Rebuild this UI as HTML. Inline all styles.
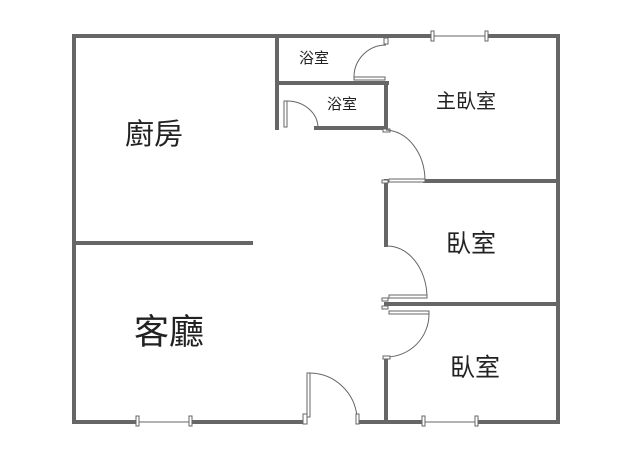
<!DOCTYPE html>
<html><head><style>body{margin:0;background:#fff}svg{display:block}text{font-family:"Liberation Sans","Noto Sans CJK TC",sans-serif;fill:#222}</style></head><body>
<svg width="640" height="461" viewBox="0 0 640 461">
<g stroke="#666" stroke-width="4" fill="none" stroke-linecap="square">
<path d="M74 36V422M74 36H432M488 36H558V422M558 422H478M421 422H360M304 422H192M137 422H74"/>
<path d="M277 36V128M277 83H387M386 83V128H316"/>
<path d="M425 181H558M386 181V245M386 304H558M386 358V422M74 243H251"/>
</g>
<g stroke="#666" stroke-width="1" fill="#fff">
<line x1="137" y1="422" x2="192" y2="422"/><rect x="136" y="416" width="3" height="10"/><rect x="189" y="416" width="3" height="10"/>
<line x1="423" y1="422" x2="476" y2="422"/><rect x="422" y="416" width="3" height="10"/><rect x="475" y="416" width="3" height="10"/>
<line x1="432" y1="36" x2="486" y2="36"/><rect x="431" y="31" width="3" height="10"/><rect x="485" y="31" width="3" height="10"/>
<rect x="384" y="38" width="4" height="6"/>
<rect x="354" y="77" width="31" height="3"/><path d="M354 77A32 32 0 0 1 386 45" fill="none"/>
<rect x="284" y="101" width="3" height="26"/><path d="M287 101A31 27 0 0 1 318 128" fill="none"/>
<rect x="383" y="129" width="7" height="3"/>
<path d="M386 130A40 51 0 0 1 425 180" fill="none"/><rect x="389" y="179" width="36" height="3"/><rect x="382" y="180" width="6" height="3"/>
<path d="M386 246A40 52 0 0 1 427 296" fill="none"/><rect x="389" y="295" width="38" height="3"/><rect x="382" y="298" width="6" height="3"/><rect x="382" y="306" width="6" height="3"/><rect x="389" y="311" width="40" height="3"/>
<path d="M429 314A43 43 0 0 1 387 357" fill="none"/><rect x="383" y="356" width="7" height="3"/>
<rect x="307" y="373" width="3" height="44"/><rect x="303" y="414" width="4" height="10"/><path d="M310 373A48 48 0 0 1 357 417" fill="none"/><rect x="356" y="414" width="3" height="10"/>
</g>
<text x="125" y="144" font-size="29">廚房</text>
<text x="134" y="344" font-size="35">客廳</text>
<text x="436" y="108" font-size="20">主臥室</text>
<text x="446" y="252" font-size="25">臥室</text>
<text x="450" y="376" font-size="25">臥室</text>
<text x="299" y="63" font-size="15">浴室</text>
<text x="327" y="109" font-size="15">浴室</text>
</svg></body></html>
